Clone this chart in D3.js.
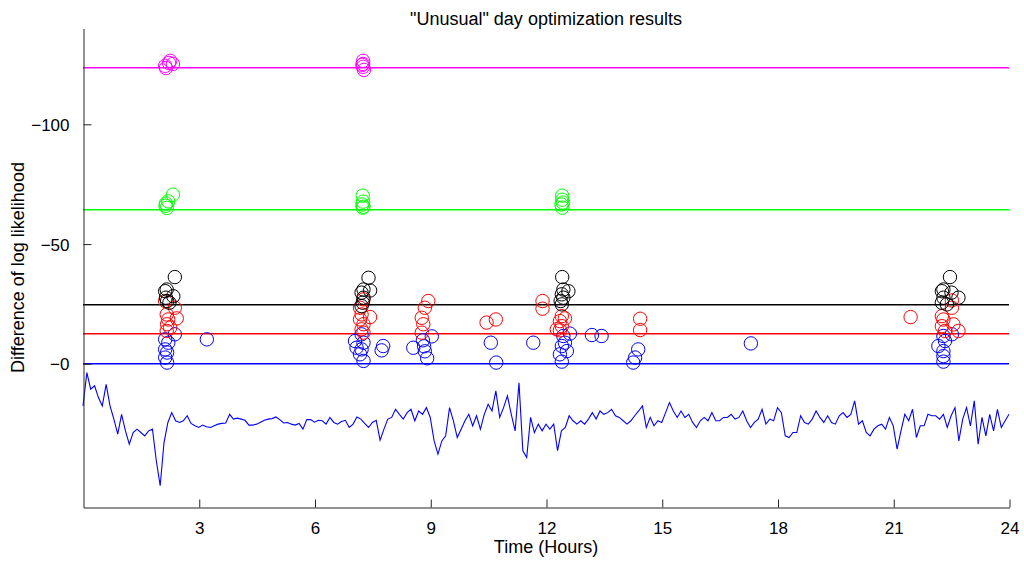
<!DOCTYPE html>
<html>
<head>
<meta charset="utf-8">
<script src="https://cdn.jsdelivr.net/npm/d3@7"></script>
<style>
  body { margin: 0; background: #fff; }
  svg { display: block; font-family: "Liberation Sans", Arial, Helvetica, sans-serif; }
</style>
</head>
<body>
<svg id="chart"></svg>
<script>
// reference levels (horizontal lines)
const levels = [
  {name: 'magenta', color: '#ff00ff', value: -123.6},
  {name: 'green', color: '#00ff00', value: -64.6},
  {name: 'black', color: '#000000', value: -24.9},
  {name: 'red', color: '#ff0000', value: -12.8},
  {name: 'blue', color: '#0000ff', value: 0}
]

// optimization results: [hour, difference of log likelihood]
const magentaPts = [
  [2.15, -123.3], [2.23, -125.4], [2.33, -125.0], [2.26, -126.3], [2.13, -124.2],
  [7.26, -126.3], [7.26, -125.0], [7.26, -123.8], [7.28, -122.5], [7.24, -124.6]
]
const greenPts = [
  [2.33, -70.4], [2.21, -67.6], [2.14, -65.8], [2.17, -64.9], [2.15, -66.7],
  [7.25, -70.0], [7.26, -67.5], [7.24, -66.3], [7.25, -65.0], [7.27, -65.4],
  [12.42, -70.0], [12.42, -68.3], [12.40, -66.3], [12.42, -65.0], [12.44, -67.1]
]
const blackPts = [
  [2.38, -36.0], [2.17, -30.8], [2.13, -30.1], [2.34, -28.0], [2.15, -27.4], [2.18, -26.0], [2.24, -25.3],
  [7.40, -35.7], [7.27, -30.8], [7.44, -30.4], [7.22, -29.5], [7.27, -27.4], [7.25, -25.3], [7.22, -23.9],
  [12.42, -36.0], [12.45, -30.8], [12.58, -30.1], [12.41, -28.8], [12.45, -27.4], [12.38, -26.0], [12.41, -24.6],
  [22.47, -36.0], [22.30, -30.8], [22.26, -30.1], [22.51, -29.5], [22.69, -27.4], [22.30, -27.4], [22.26, -25.3], [22.39, -24.6]
]
const redPts = [
  [2.13, -26.0], [2.38, -23.2], [2.17, -20.4], [2.43, -18.75], [2.21, -18.3], [2.18, -16.3], [2.26, -14.9], [2.17, -13.5],
  [7.27, -26.7], [7.18, -23.2], [7.22, -20.4], [7.44, -19.3], [7.18, -18.3], [7.27, -16.3], [7.22, -14.2], [7.27, -12.8],
  [8.95, -26.0], [8.86, -23.2], [8.78, -19.0], [8.82, -16.3], [8.78, -12.8],
  [10.46, -17.0], [10.70, -18.3],
  [11.91, -26.0], [11.91, -22.8],
  [12.41, -19.7], [12.49, -18.75], [12.36, -17.6], [12.41, -15.5], [12.36, -13.75], [12.28, -14.2],
  [14.44, -18.6], [14.44, -13.9],
  [21.45, -19.3],
  [22.52, -26.25], [22.52, -23.2], [22.26, -19.7], [22.30, -18.3], [22.56, -16.25], [22.26, -15.5], [22.69, -13.5], [22.34, -13.5]
]
const bluePts = [
  [2.38, -12.1], [2.13, -10.0], [3.21, -10.0], [2.21, -8.6], [2.13, -5.8], [2.18, -4.5], [2.13, -2.4], [2.18, -0.3],
  [7.22, -12.1], [7.05, -9.3], [7.27, -8.6], [7.09, -6.5], [7.22, -5.8], [7.18, -3.75], [7.27, -1.0],
  [7.78, -7.2], [7.74, -5.4], [8.56, -6.5],
  [9.04, -11.25], [8.81, -9.6], [8.84, -7.1], [8.86, -5.0], [8.92, -2.1],
  [10.57, -8.6], [10.71, -0.3], [11.67, -8.6],
  [12.62, -12.4], [12.45, -11.4], [12.49, -8.6], [12.41, -7.2], [12.54, -5.1], [12.36, -3.75], [12.41, -0.7],
  [13.19, -11.8], [13.44, -11.4],
  [14.39, -5.8], [14.31, -2.4], [14.26, -0.3],
  [17.31, -8.3],
  [22.52, -12.1], [22.30, -11.4], [22.34, -9.3], [22.17, -7.2], [22.30, -5.1], [22.30, -3.0], [22.30, -0.7]
]

// log likelihood trace, one value every 0.1 hour from 0 to 24
const TRACE_STEP = 0.1
const traceValues = [
  17.8, 3.9, 10.8, 9.4, 14.3, 17.8, 8.8, 17.8, 23.3, 29.6,
  21.3, 28.2, 33.8, 28.9, 27.5, 28.9, 30.3, 28.2, 27.5, 40.7,
  51.1, 33.1, 24.7, 20.6, 24.0, 24.7, 24.0, 21.9, 25.1, 26.1,
  26.8, 25.8, 26.5, 26.8, 26.1, 25.4, 25.1, 24.9, 21.3, 23.3,
  22.9, 23.3, 23.8, 25.8, 25.8, 25.4, 24.6, 23.8, 23.3, 23.1,
  22.4, 23.5, 24.9, 24.7, 25.4, 25.8, 25.1, 27.5, 23.5, 23.5,
  24.6, 23.8, 24.0,
  25.4, 22.6, 24.7, 25.4, 24.3, 23.8, 26.8, 25.4, 22.4, 23.3,
  25.1, 26.8, 24.7, 23.8, 32.1, 27.5, 23.3, 22.6, 19.2, 21.3,
  23.3, 20.6, 19.2, 24.0, 19.9, 21.3, 18.5, 22.6, 32.4, 37.9,
  32.4, 30.3, 18.5, 24.0, 31.0, 27.5, 24.0, 21.3, 26.1, 21.9,
  27.5, 21.3, 17.1, 19.9, 11.5, 22.6, 18.5, 13.6, 21.3, 28.2,
  8.1, 36.5, 39.3, 22.6, 28.9, 25.4, 28.2, 25.4, 27.5, 25.4,
  36.5, 28.2, 26.8, 21.9, 24.0, 25.4, 24.0, 25.4, 23.3, 20.6,
  23.3, 19.9, 21.3, 20.6, 19.2, 21.9, 22.6, 24.0, 25.4, 24.0,
  21.9, 19.9, 17.8, 26.8, 22.6, 26.1, 24.0, 24.7, 20.6, 16.4,
  19.9, 22.6, 19.9, 22.6, 21.3, 24.7, 26.8, 24.0, 22.6, 24.0,
  20.6, 24.0, 24.0, 22.6, 22.6, 21.3, 23.3, 22.6, 19.9, 24.0,
  26.8, 24.7, 23.3, 19.2, 25.4, 23.3, 24.0, 18.5, 20.6, 30.3,
  31.0, 28.9, 28.9, 21.9, 24.7, 25.4, 23.3, 19.9, 22.6, 24.7,
  21.9, 24.7, 25.4, 21.9, 20.6, 22.6, 21.3, 15.7, 25.4, 24.0,
  28.9, 30.3, 27.5, 26.1, 25.4, 27.5, 22.6, 26.1, 35.8, 28.2,
  21.3, 24.0, 19.2, 31.0, 26.1, 26.1, 21.3, 21.9, 21.9, 23.3,
  21.3, 26.8, 21.9, 18.5, 32.4, 23.3, 18.5, 26.1, 15.7, 33.8,
  22.6, 30.3, 21.3, 28.2, 19.2, 26.8, 24.0, 21.3
]

const xTicks = [3, 6, 9, 12, 15, 18, 21, 24]
const yTicks = [-100, -50, 0]

const WIDTH = 1024
const HEIGHT = 561
const LEFT = 83, RIGHT = 1009, TOP = 28, BOTTOM = 507
const RADIUS = 6.7

const svg = d3.select('#chart')
  .attr('width', WIDTH)
  .attr('height', HEIGHT)

const x = d3.scaleLinear().domain([0, 24]).range([LEFT, RIGHT])
const y = d3.scaleLinear().domain([-140, 60]).range([TOP, BOTTOM])

// horizontal reference lines, drawn as thin filled strips
svg.append('g')
  .attr('class', 'levels')
  .selectAll('rect')
  .data(levels)
  .enter().append('rect')
    .attr('x', x(0))
    .attr('width', x(24) - x(0))
    .attr('y', d => Math.round(y(d.value)))
    .attr('height', 1.5)
    .attr('fill', d => d.color)

// trace
const line = d3.line()
  .x((d, i) => x(i * TRACE_STEP))
  .y(d => y(d))
svg.append('path')
  .datum(traceValues)
  .attr('d', line)
  .attr('fill', 'none')
  .attr('stroke', '#0000ff')
  .attr('stroke-width', 1.1)

// circles
const groups = [
  {pts: bluePts, color: '#0000ff'},
  {pts: redPts, color: '#ff0000'},
  {pts: blackPts, color: '#000000'},
  {pts: greenPts, color: '#00ff00'},
  {pts: magentaPts, color: '#ff00ff'}
]
for (const grp of groups) {
  svg.append('g')
    .selectAll('circle')
    .data(grp.pts)
    .enter().append('circle')
      .attr('cx', d => x(d[0]))
      .attr('cy', d => y(d[1]))
      .attr('r', RADIUS)
      .attr('fill', 'none')
      .attr('stroke', grp.color)
      .attr('stroke-width', 1)
}

// axes
const xAxis = svg.append('g')
  .attr('transform', `translate(0.5,${BOTTOM + 0.5})`)
  .call(d3.axisBottom(x).tickValues(xTicks).tickSize(-8).tickSizeOuter(0).tickPadding(14))
const yAxis = svg.append('g')
  .attr('transform', `translate(${LEFT + 0.5},0.5)`)
  .call(d3.axisLeft(y).tickValues(yTicks).tickSize(-8).tickSizeOuter(0).tickPadding(14)
    .tickFormat(d => '\u2212' + Math.abs(d)))

for (const ax of [xAxis, yAxis]) {
  ax.select('.domain').attr('stroke', '#262626')
  ax.selectAll('.tick line').attr('stroke', '#262626')
  ax.selectAll('.tick text')
    .attr('fill', '#000')
    .style('font-size', '17px')
    .style('font-family', '"Liberation Sans", Arial, sans-serif')
}
yAxis.selectAll('.tick text').attr('dy', '0.36em')

// labels
svg.append('text')
  .attr('x', (LEFT + RIGHT) / 2)
  .attr('y', 25)
  .attr('text-anchor', 'middle')
  .style('font-size', '18px')
  .text('"Unusual" day optimization results')

svg.append('text')
  .attr('x', (LEFT + RIGHT) / 2)
  .attr('y', 553)
  .attr('text-anchor', 'middle')
  .style('font-size', '18px')
  .text('Time (Hours)')

svg.append('text')
  .attr('transform', `translate(24,${(TOP + BOTTOM) / 2}) rotate(-90)`)
  .attr('text-anchor', 'middle')
  .style('font-size', '18px')
  .text('Difference of log likelihood')
</script>
</body>
</html>
